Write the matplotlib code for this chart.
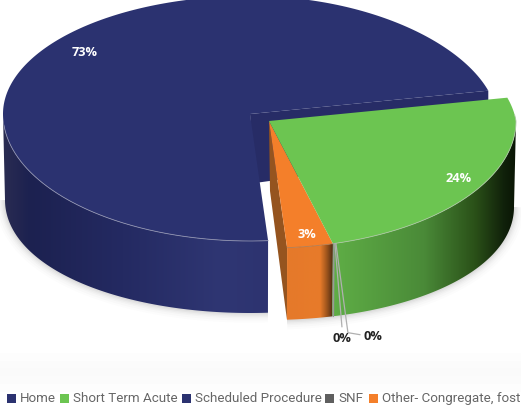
import numpy as np
import matplotlib
matplotlib.use("Agg")
import matplotlib.pyplot as plt
from matplotlib.colors import LinearSegmentedColormap as LSC
from matplotlib.patches import Rectangle, Polygon

categories = ["Home", "Short Term Acute", "Scheduled Procedure", "SNF", "Other- Congregate, foster care"]
values = [73, 24, 0, 0, 3]
colors = ["#2b3270", "#6cc551", "#2b3270", "#5f5f5f", "#f47f2a"]

W, H = 521, 405
fig = plt.figure(figsize=(W / 100, H / 100), dpi=100, facecolor="white")
ax = fig.add_axes([0, 0, 1, 1])
ax.set_xlim(0, W)
ax.set_ylim(H, 0)
ax.axis("off")

START = 274.2
edges = START - np.concatenate([[0], np.cumsum(values)]) * 3.6
RX, RY_UP, RY_DN = 247, 118, 127
BRX, BRY, DEPTH = 245, 119, 80
C_BLUE, C_REST = (250, 114), (269, 121)


def top(c, t):
    t = np.radians(t)
    s, co = np.sin(t), np.cos(t)
    squeeze = np.where((s > 0) & (co > 0), 1 - 0.08 * s, 1.0)
    return c[0] + RX * co * squeeze, c[1] - np.where(s > 0, RY_UP, RY_DN) * s


def bot(c, t):
    t = np.radians(t)
    co = np.cos(t)
    return c[0] + BRX * co, c[1] + DEPTH + 6 * co ** 2 - BRY * np.sin(t)


def arc(a, b, n=240):
    return np.linspace(a, b, n)


def side(c, a, b, cmap):
    """Outer wall of a slice: a left-to-right gradient clipped to the wall's outline."""
    tt = arc(min(a, b), max(a, b))
    x1, y1 = top(c, tt)
    x2, y2 = bot(c, tt)
    px, py = np.r_[x1, x2[::-1]], np.r_[y1, y2[::-1]]
    grad = np.linspace(0, 1, 256).reshape(1, -1)
    im = ax.imshow(grad, extent=(px.min(), px.max(), py.max(), py.min()), aspect="auto",
                   cmap=cmap, vmin=0, vmax=1, zorder=3)
    im.set_clip_path(Polygon(np.c_[px, py], transform=ax.transData))


def wedge_top(c, a, b, color, z=5):
    tt = arc(a, b)
    x, y = top(c, tt)
    ax.fill(np.r_[c[0], x], np.r_[c[1], y], color=color, lw=0, zorder=z)


# faint background band above the legend
band = np.array([0, .3, .7, 1, .8, .4]).reshape(-1, 1)
ax.imshow(band, extent=(0, W, 392, 345), aspect="auto",
          cmap=LSC.from_list("b", ["#ffffff", "#fafafa"]), vmin=0, vmax=1, zorder=0)

# soft shadow under the pie
for lw, al in zip([14, 11, 8, 6, 4, 2], [.012, .016, .02, .025, .03, .035]):
    for c, a, b in [(C_BLUE, 180, START), (C_REST, edges[5], 0)]:
        x, y = bot(c, arc(a, b))
        ax.plot(x, y, color="k", lw=lw, alpha=al, zorder=1, solid_capstyle="butt")

# Home: cut face, outer wall, top
ex, ey = top(C_BLUE, edges[1])
ax.fill([C_BLUE[0], ex, ex, C_BLUE[0] + 5], [C_BLUE[1], ey, ey + 60, C_BLUE[1] + 69],
        color="#272c66", lw=0, zorder=2)
blue_side = LSC.from_list("bs", [(0, "#2a2c52"), (.1, "#1c2150"), (.45, "#242a62"),
                                 (.82, "#2f3673"), (1, "#2d3370")])
side(C_BLUE, 180, START, blue_side)
wedge_top(C_BLUE, edges[0], edges[1], colors[0], z=5)
x, y = top(C_BLUE, arc(185, START))
ax.plot(x, y, color="#8d90ae", lw=0.6, zorder=6)

# Other: inner face, outer wall, top
ox, oy = top(C_REST, edges[5])
bx, by = bot(C_REST, edges[5])
ax.fill([C_REST[0], C_REST[0] + 1, bx, ox], [C_REST[1], C_REST[1] + 70, by, oy],
        color="#95541f", lw=0, zorder=3)
orange_side = LSC.from_list("os", [(0, "#e5792a"), (.72, "#e87b2a"), (.85, "#a85a1e"), (1, "#4f2c14")])
side(C_REST, edges[5], edges[3], orange_side)
x, y = top(C_REST, arc(edges[3], edges[5], 30))
ax.plot(x, y, color="#b07a50", lw=0.6, zorder=6)
wedge_top(C_REST, edges[3], edges[5], colors[4], z=5)

# Short Term Acute: outer wall, top
green_side = LSC.from_list("gs", [(0, "#5fae46"), (.5, "#4a8a38"), (.78, "#2a5018"),
                                  (.94, "#10200a"), (1, "#0a1505")])
side(C_REST, edges[2], 0, green_side)
wedge_top(C_REST, edges[1], edges[2], colors[1], z=5)
x, y = top(C_REST, arc(edges[2], 3))
ax.plot(x, y, color="#a9c6a0", lw=0.6, zorder=6)

# zero-share slices and their leader lines
zx, zy = top(C_REST, edges[2])
zbx, zby = bot(C_REST, edges[2])
ax.plot([zx + 1, zbx + 1], [zy, zby], color="#9a9a9a", lw=1, zorder=7)
ax.plot([zx + 2, zx + 9], [zy, zy + 83], color="#b0b0b0", lw=0.9, zorder=7)
ax.plot([zx + 3, zx + 15, zx + 27], [zy, zy + 89, zy + 91], color="#b0b0b0", lw=0.9, zorder=7)

lab = dict(ha="center", va="center", family="Open Sans", weight="bold", fontsize=9.2, zorder=8)
ax.text(85, 52, f"{values[0]}%", color="white", **lab)
ax.text(459, 179, f"{values[1]}%", color="white", **lab)
ax.text(307, 235, f"{values[4]}%", color="white", **lab)
ax.text(342, 338, f"{values[2]}%", color="#222222", **lab)
ax.text(373, 336, f"{values[3]}%", color="#222222", **lab)

# legend
x = 7
for name, col, adv in zip(categories, colors, [53, 122, 143, 44, 0]):
    ax.add_patch(Rectangle((x, 393.5), 9, 9, color=col, lw=0, zorder=8))
    ax.text(x + 13, 398.5, name, family="Roboto", fontsize=9.6, color="#666666",
            ha="left", va="center", zorder=8, clip_on=True)
    x += adv

ax.set_xlim(0, W)
ax.set_ylim(H, 0)
fig.savefig("out.png", dpi=100)
